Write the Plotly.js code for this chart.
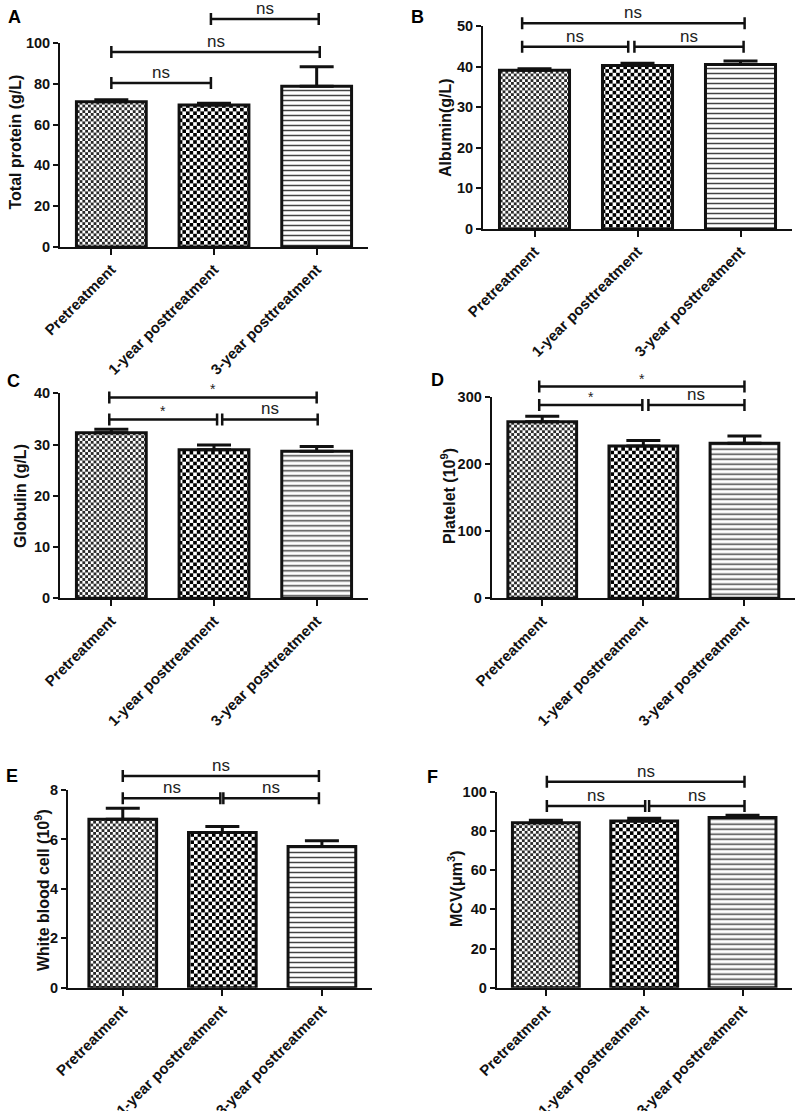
<!DOCTYPE html>
<html>
<head>
<meta charset="utf-8">
<script src="https://cdn.plot.ly/plotly-3.0.1.min.js"></script>
<style>html,body{margin:0;padding:0;background:#fff}#chart{width:797px;height:1111px}</style>
</head>
<body>
<div id="chart"></div>
<script>
// ---------- data ----------
const categories = ['Pretreatment', '1-year posttreatment', '3-year posttreatment'];
const panelLabels = ['A', 'B', 'C', 'D', 'E', 'F'];
const yTitles = ['Total protein (g/L)', 'Albumin(g/L)', 'Globulin (g/L)',
                 'Platelet (10<sup>9</sup>)', 'White blood cell (10<sup>9</sup>)', 'MCV(μm<sup>3</sup>)'];

const totalProtein    = [71.2, 69.6, 78.8];
const totalProteinErr = [1.0, 0.9, 9.6];
const albumin         = [39.1, 40.3, 40.5];
const albuminErr      = [0.4, 0.5, 0.9];
const globulin        = [32.3, 29.0, 28.7];
const globulinErr     = [0.7, 0.9, 0.9];
const platelet        = [262.8, 226.6, 230.6];
const plateletErr     = [8.2, 8.4, 10.9];
const whiteBloodCell  = [6.82, 6.28, 5.71];
const whiteBloodCellErr = [0.44, 0.24, 0.24];
const mcv             = [84.2, 85.0, 86.9];
const mcvErr          = [1.2, 1.4, 1.1];

const yMaxes  = [100, 50, 40, 300, 8, 100];
const yDticks = [20, 10, 10, 100, 2, 20];

// significance brackets: [from, to, height (data units), label]
const sigA = [[0.97, 2.02, 111.8, 'ns'], [0, 2.03, 95.6, 'ns'], [0, 0.97, 80.4, 'ns']];
const sigB = [[-0.12, 2.04, 50.7, 'ns'], [-0.12, 0.91, 44.9, 'ns'], [0.97, 2.03, 44.9, 'ns']];
const sigC = [[-0.02, 2.0, 39.2, '*'], [-0.02, 1.03, 34.9, '*'], [1.08, 2.01, 34.9, 'ns']];
const sigD = [[-0.03, 2.0, 315, '*'], [-0.03, 0.99, 287.6, '*'], [1.05, 2.0, 287.6, 'ns']];
const sigE = [[0, 1.97, 8.57, 'ns'], [0, 0.98, 7.67, 'ns'], [1.01, 1.97, 7.67, 'ns']];
const sigF = [[0.01, 2.02, 105.1, 'ns'], [0.01, 1.01, 92.7, 'ns'], [1.05, 2.02, 92.7, 'ns']];

// ---------- layout config ----------
const W = 797, H = 1111;
const FONT = 'Liberation Sans, Arial, sans-serif';
const INK = '#111';

const panels = [
  {vals: totalProtein,   errs: totalProteinErr,   sig: sigA, px: [60, 368],     py: [247, 43],      xr: [-0.5, 2.5],  title: [15, 142.5], lab: [15, 17]},
  {vals: albumin,        errs: albuminErr,        sig: sigB, px: [483, 792],    py: [229, 26],      xr: [-0.5, 2.5],  title: [445.5, 127.5], lab: [417, 17]},
  {vals: globulin,       errs: globulinErr,       sig: sigC, px: [60, 368],     py: [598.3, 393.3], xr: [-0.5, 2.5],  title: [20, 496], lab: [13, 381]},
  {vals: platelet,       errs: plateletErr,       sig: sigD, px: [491.7, 795],  py: [598.3, 396.7], xr: [-0.5, 2.5],  title: [448, 496], lab: [437, 380]},
  {vals: whiteBloodCell, errs: whiteBloodCellErr, sig: sigE, px: [68, 371.7],   py: [987.7, 790],   xr: [-0.55, 2.5], title: [42, 890], lab: [12, 776]},
  {vals: mcv,            errs: mcvErr,            sig: sigF, px: [496.7, 791.7],py: [987.7, 791.7], xr: [-0.5, 2.5],  title: [455, 889], lab: [432, 777]}
];

// textures: fine checker, coarse checker, horizontal lines
const patterns = [
  {shape: '.', size: 5.6, solidity: 0.5, fgcolor: '#2a2a2a', bgcolor: '#fff', fgopacity: 1, fillmode: 'replace'},
  {shape: '.', size: 7.2, solidity: 0.5, fgcolor: '#000', bgcolor: '#fff', fgopacity: 1, fillmode: 'replace'},
  {shape: '-', size: 5, solidity: 0.3, fgcolor: '#444', bgcolor: '#fff', fgopacity: 1, fillmode: 'replace'}
];

const data = [];
const layout = {
  width: W, height: H,
  margin: {l: 0, r: 0, t: 0, b: 0},
  paper_bgcolor: '#fff', plot_bgcolor: 'rgba(0,0,0,0)',
  showlegend: false, barmode: 'overlay',
  font: {family: FONT, color: INK},
  shapes: [], annotations: []
};

panels.forEach((p, k) => {
  const s = k === 0 ? '' : String(k + 1);
  const xId = 'x' + s, yId = 'y' + s;
  const yMax = yMaxes[k];

  categories.forEach((c, i) => {
    data.push({
      type: 'bar', x: [i], y: [p.vals[i]], width: 0.68,
      xaxis: xId, yaxis: yId, name: c, hoverinfo: 'skip',
      marker: {color: '#fff', line: {color: INK, width: 3}, pattern: patterns[i]},
      error_y: {type: 'data', symmetric: false, array: [p.errs[i]], arrayminus: [0],
                color: INK, thickness: 3, width: 17}
    });
  });

  layout['xaxis' + s] = {
    domain: [p.px[0] / W, p.px[1] / W], anchor: yId, range: p.xr,
    tickvals: [0, 1, 2], ticktext: categories, tickangle: -45,
    ticks: 'outside', ticklen: 6, tickwidth: 2, tickcolor: INK,
    showline: true, linewidth: 2, linecolor: INK, showgrid: false, zeroline: false,
    tickfont: {family: FONT, size: 15, weight: 700, color: INK}, automargin: false, fixedrange: true
  };
  layout['yaxis' + s] = {
    domain: [1 - p.py[0] / H, 1 - p.py[1] / H], anchor: xId, range: [0, yMax],
    tick0: 0, dtick: yDticks[k],
    ticks: 'outside', ticklen: 5, tickwidth: 2, tickcolor: INK,
    showline: true, linewidth: 2, linecolor: INK, showgrid: false, zeroline: false,
    tickfont: {family: FONT, size: 14.5, weight: 700, color: INK}, automargin: false, fixedrange: true
  };

  // significance brackets
  p.sig.forEach(([a, b, h, lab]) => {
    layout.shapes.push({
      type: 'path', xref: xId, yref: yId + ' domain', ysizemode: 'pixel', yanchor: h / yMax,
      path: `M${a},-6 L${a},6 M${a},0 L${b},0 M${b},-6 L${b},6`,
      line: {color: INK, width: 2.5}
    });
    layout.annotations.push({
      xref: xId, yref: yId + ' domain', x: (a + b) / 2, y: h / yMax,
      yanchor: 'bottom', xanchor: 'center', showarrow: false, yshift: lab === '*' ? -2 : -1,
      text: lab, font: {family: FONT, size: lab === '*' ? 14 : 17, color: '#222'}
    });
  });

  // y title
  layout.annotations.push({
    xref: 'paper', yref: 'paper', x: p.title[0] / W, y: 1 - p.title[1] / H,
    xanchor: 'center', yanchor: 'middle', textangle: -90, showarrow: false,
    text: yTitles[k], font: {family: FONT, size: 16, weight: 700, color: INK}
  });
  // panel label
  layout.annotations.push({
    xref: 'paper', yref: 'paper', x: p.lab[0] / W, y: 1 - p.lab[1] / H,
    xanchor: 'center', yanchor: 'middle', showarrow: false,
    text: panelLabels[k], font: {family: FONT, size: 18, weight: 700, color: '#000'}
  });
});

Plotly.newPlot('chart', data, layout, {staticPlot: true, displayModeBar: false}).then(gd => {
  // turn the dot textures into checkerboards (same tile size, same colour)
  const NS = 'http://www.w3.org/2000/svg';
  gd.querySelectorAll('defs pattern').forEach(pt => {
    const c = pt.querySelector('circle');
    if (!c) return;
    const w = parseFloat(pt.getAttribute('width'));
    const h = w / 2;
    const sq = document.createElementNS(NS, 'path');
    sq.setAttribute('d', `M0,0H${h}V${h}H0Z M${h},${h}H${w}V${w}H${h}Z`);
    sq.setAttribute('fill', c.getAttribute('fill') || c.style.fill || '#000');
    if (c.getAttribute('style')) sq.setAttribute('style', c.getAttribute('style'));
    pt.replaceChild(sq, c);
  });
});
</script>
</body>
</html>
